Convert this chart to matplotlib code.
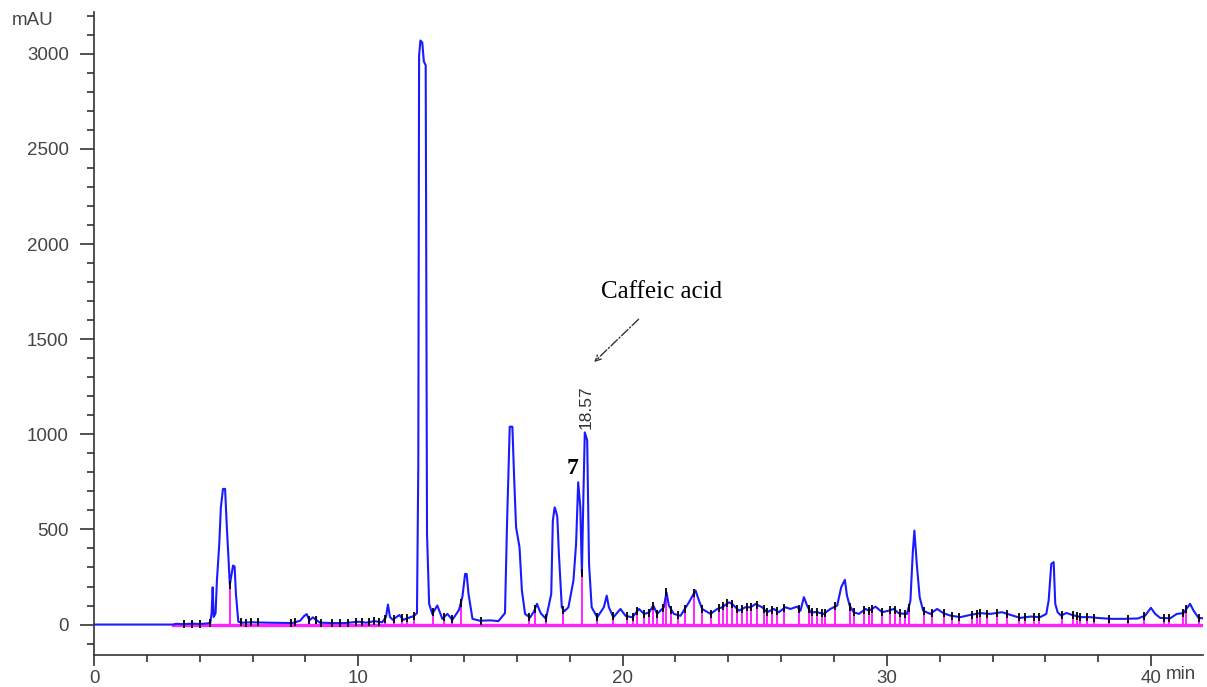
import numpy as np
import matplotlib.pyplot as plt
from matplotlib.ticker import MultipleLocator

# chromatogram trace (retention time in min, signal in mAU)
rt = [0.0, 3.0, 3.1, 3.4, 3.7, 4.0, 4.3, 4.40, 4.45, 4.49, 4.53, 4.60, 4.65,
      4.74, 4.80, 4.88, 4.96, 5.02, 5.14, 5.26, 5.32, 5.37, 5.46, 5.6, 6.0,
      6.5, 7.0, 7.5, 7.8, 7.95, 8.05, 8.15, 8.28, 8.40, 8.55, 9.0, 9.5, 10.0,
      10.3, 10.6, 10.9, 11.05, 11.12, 11.20, 11.30, 11.55, 11.70, 11.9, 12.1,
      12.22, 12.27, 12.30, 12.35, 12.42, 12.48, 12.55, 12.58, 12.60, 12.68,
      12.80, 12.99, 13.18, 13.37, 13.56, 13.81, 13.94, 14.04, 14.10, 14.17,
      14.32, 14.6, 15.0, 15.3, 15.55, 15.63, 15.73, 15.83, 15.90, 15.97, 16.10,
      16.19, 16.31, 16.50, 16.65, 16.76, 16.90, 17.10, 17.30, 17.36, 17.43,
      17.49, 17.53, 17.59, 17.70, 17.80, 17.95, 18.14, 18.24, 18.32, 18.40,
      18.46, 18.52, 18.57, 18.66, 18.73, 18.83, 19.04, 19.29, 19.40, 19.48,
      19.65, 19.92, 20.11, 20.37, 20.62, 20.81, 21.00, 21.16, 21.31, 21.56,
      21.66, 21.75, 21.94, 22.19, 22.51, 22.76, 22.89, 23.01, 23.33, 23.58,
      23.77, 24.02, 24.15, 24.40, 24.65, 24.84, 25.03, 25.28, 25.47, 25.72,
      25.91, 26.16, 26.35, 26.60, 26.73, 26.86, 26.98, 27.11, 27.36, 27.61,
      27.86, 28.12, 28.27, 28.41, 28.49, 28.59, 28.74, 28.94, 29.19, 29.32,
      29.57, 29.82, 30.07, 30.26, 30.45, 30.76, 30.89, 30.98, 31.04, 31.13,
      31.24, 31.37, 31.64, 31.90, 32.15, 32.40, 32.78, 33.16, 33.54, 33.91,
      34.36, 34.67, 35.05, 35.43, 35.80, 36.03, 36.12, 36.22, 36.31, 36.37,
      36.46, 36.59, 36.79, 37.00, 37.32, 37.69, 37.95, 38.5, 39.0, 39.5,
      39.77, 39.99, 40.15, 40.34, 40.72, 40.97, 41.22, 41.47, 41.60, 41.79,
      41.95]
signal = [0, 0, 4, 2, 5, 3, 6, 10, 60, 196, 40, 60, 231,
          424, 616, 713, 713, 529, 210, 310, 305, 161, 15, 10, 12,
          10, 9, 8, 20, 45, 55, 22, 38, 25, 10, 8, 8, 15,
          10, 18, 12, 40, 105, 40, 25, 50, 25, 35, 45,
          60, 835, 2990, 3070, 3060, 2960, 2940, 1500, 477, 109,
          56, 100, 30, 56, 25, 77, 147, 266, 266, 161,
          30, 20, 22, 18, 60, 546, 1040, 1040, 757, 511, 406,
          179, 56, 37, 70, 109, 60, 30, 161, 546, 616,
          590, 564, 371, 91, 70, 91, 231, 424, 748, 616,
          270, 700, 1010, 969, 319, 91, 38, 91, 152, 91,
          38, 82, 46, 38, 82, 56, 63, 100, 56, 91,
          170, 100, 56, 46, 117, 179, 126, 82, 56, 82,
          91, 117, 108, 73, 91, 91, 108, 91, 65, 82,
          65, 91, 82, 94, 73, 144, 100, 65, 65, 56,
          82, 100, 196, 235, 152, 100, 65, 56, 82, 73,
          94, 65, 73, 82, 59, 56, 126, 380, 494, 319,
          144, 73, 56, 82, 59, 47, 39, 51, 60, 56,
          65, 51, 35, 42, 39, 56, 126, 319, 328, 109,
          65, 47, 61, 51, 39, 39, 35, 30, 30, 32,
          47, 88, 56, 35, 33, 56, 60, 109, 74, 35,
          33]

# integration start/end points (drop lines)
boundaries = [3.4, 3.7, 4.0, 4.4, 5.14, 5.55, 5.75, 5.95, 6.2, 7.45, 7.6,
              8.15, 8.4, 8.6, 9.0, 9.3, 9.6, 9.9, 10.15, 10.4, 10.6, 10.8,
              11.0, 11.35, 11.65, 11.85, 12.1, 12.84, 13.25, 13.54, 13.88,
              14.63, 16.46, 16.69, 17.11, 17.76, 18.46, 19.04, 19.63, 20.18,
              20.39, 20.55, 20.81, 21.0, 21.16, 21.31, 21.54, 21.66, 21.85,
              22.09, 22.36, 22.70, 23.01, 23.33, 23.64, 23.81, 23.96, 24.15,
              24.34, 24.53, 24.71, 24.84, 25.09, 25.34, 25.47, 25.66, 25.85,
              26.10, 26.67, 27.04, 27.17, 27.36, 27.55, 27.67, 28.05, 28.62,
              28.74, 29.12, 29.31, 29.44, 29.82, 30.13, 30.32, 30.51, 30.70,
              30.82, 31.39, 31.71, 32.15, 32.46, 32.72, 33.22, 33.41, 33.53,
              33.79, 34.17, 34.54, 34.98, 35.24, 35.55, 35.74, 36.62, 37.06,
              37.19, 37.32, 37.57, 37.82, 38.39, 39.14, 39.71, 40.47, 40.66,
              41.20, 41.32, 41.79]

rt = np.array(rt)
signal = np.array(signal)
bnd = np.array(boundaries)
bnd_h = np.interp(bnd, rt, signal)

fig = plt.figure(figsize=(12.07, 6.87), dpi=100)
ax = fig.add_axes([94 / 1207, 1 - 655 / 687, (1203 - 94) / 1207, (655 - 12) / 687])

# baseline and drop lines
ax.plot([3.0, 41.95], [0, 0], color='#ff22ff', lw=2.4, zorder=2)
ax.vlines(bnd, 0, bnd_h, color='#ff22ff', lw=1.4, zorder=2)
ax.plot(rt, signal, color='#1a1aff', lw=1.5, zorder=3)
ax.plot(bnd, bnd_h, ls='none', marker='|', ms=6, mew=1.3, color='black', zorder=4)

ax.set_xlim(0, 41.96)
ax.set_ylim(-160, 3220)
for s in ['top', 'right']:
    ax.spines[s].set_visible(False)
for s in ['left', 'bottom']:
    ax.spines[s].set_color('#333333')
    ax.spines[s].set_linewidth(1.2)
ax.xaxis.set_major_locator(MultipleLocator(10))
ax.xaxis.set_minor_locator(MultipleLocator(2))
ax.yaxis.set_major_locator(MultipleLocator(500))
ax.yaxis.set_minor_locator(MultipleLocator(100))
ax.tick_params(which='major', length=8, width=1.2, color='#333333',
               labelsize=13.5, labelcolor='#444444')
ax.tick_params(which='minor', length=5, width=1.2, color='#333333')
ax.tick_params(axis='y', which='major', length=10, pad=8)
ax.tick_params(axis='x', pad=3)
for lab in ax.get_xticklabels() + ax.get_yticklabels():
    lab.set_family('Liberation Sans')

fig.text(12 / 1207, 1 - 29 / 687, 'mAU', family='Liberation Sans', fontsize=13.5,
         color='#444444', ha='left', va='bottom')
ax.text(40.56, -0.017, 'min', transform=ax.get_xaxis_transform(),
        family='Liberation Sans', fontsize=13.5, color='#444444', ha='left', va='top')

# peak annotations
ax.text(18.62, 1030, '18.57', rotation=90, family='Liberation Sans', fontsize=12.5,
        color='#333333', ha='center', va='bottom')
ax.text(18.1, 820, '7', family='Liberation Serif', fontweight='bold', fontsize=17,
        color='black', ha='center', va='center')
ax.text(21.47, 1750, 'Caffeic acid', family='Liberation Serif', fontsize=18,
        color='black', ha='center', va='center')
ax.annotate('', xy=(18.85, 1370), xytext=(20.68, 1615),
            arrowprops=dict(arrowstyle='->', ls='-.', lw=1.0, color='#333333'))

fig.savefig('out.png', dpi=100)
